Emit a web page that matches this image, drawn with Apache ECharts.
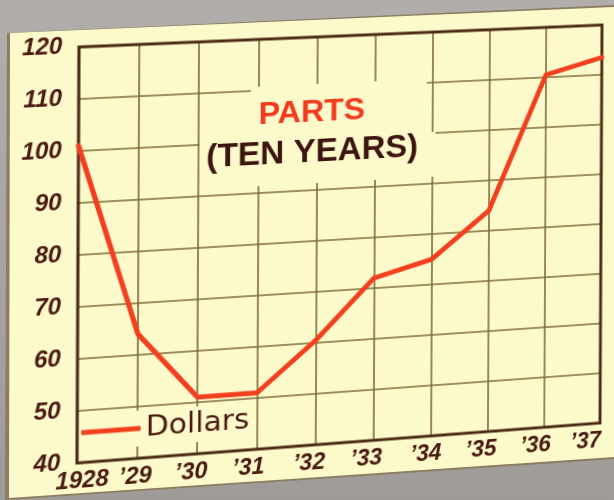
<!DOCTYPE html>
<html><head><meta charset="utf-8">
<script src="https://cdn.jsdelivr.net/npm/echarts@6/dist/echarts.min.js"></script>
<style>
html,body{margin:0;padding:0;width:614px;height:500px;overflow:hidden;background:linear-gradient(#b0adaa,#9e9b98);}
#edge{position:absolute;left:0;top:0;width:614px;height:500px;background:#8c7c62;clip-path:polygon(7px 33px,614px 5px,614px 459px,5px 500px);}
#paper{position:absolute;left:0;top:0;width:614px;height:500px;background:#fcfacb;clip-path:polygon(10px 33px,614px 7px,614px 457px,9px 498px);}
#chart{position:absolute;left:0;top:0;width:614px;height:500px;transform-origin:0 0;}
</style></head><body>
<div id="edge"></div><div id="paper"></div><div id="chart"></div>
<script>
// ---- data ----
const years = ['1928', '\u201929', '\u201930', '\u201931', '\u201932', '\u201933', '\u201934', '\u201935', '\u201936', '\u201937'];
const dollars = [101, 64, 51, 51, 60.5, 72, 75, 84, 110.5, 113.5];
const yMin = 40, yMax = 120, yStep = 10;
const seriesName = 'Dollars';
const titleMain = 'PARTS';
const titleSub = '(TEN YEARS)';

// ---- photo perspective (plot rect -> photographed quad) ----
const plot = {l: 79, t: 47, r: 602, b: 463};
const srcQuad = [[plot.l, plot.t], [plot.r, plot.t], [plot.l, plot.b], [plot.r, plot.b]];
const dstQuad = [[79, 47], [602, 25], [77, 463], [600, 423]];
function solve(A, b) {
  const n = b.length;
  for (let i = 0; i < n; i++) {
    let p = i;
    for (let r = i + 1; r < n; r++) if (Math.abs(A[r][i]) > Math.abs(A[p][i])) p = r;
    [A[i], A[p]] = [A[p], A[i]]; [b[i], b[p]] = [b[p], b[i]];
    for (let r = i + 1; r < n; r++) {
      const f = A[r][i] / A[i][i];
      for (let c = i; c < n; c++) A[r][c] -= f * A[i][c];
      b[r] -= f * b[i];
    }
  }
  const x = new Array(n);
  for (let i = n - 1; i >= 0; i--) {
    let s = b[i];
    for (let c = i + 1; c < n; c++) s -= A[i][c] * x[c];
    x[i] = s / A[i][i];
  }
  return x;
}
function homography(src, dst) {
  const A = [], b = [];
  for (let i = 0; i < 4; i++) {
    const [x, y] = src[i], [u, v] = dst[i];
    A.push([x, y, 1, 0, 0, 0, -u * x, -u * y]); b.push(u);
    A.push([0, 0, 0, x, y, 1, -v * x, -v * y]); b.push(v);
  }
  const h = solve(A, b);
  return [h[0], h[1], h[2], h[3], h[4], h[5], h[6], h[7], 1];
}
function applyH(h, x, y) {
  const w = h[6] * x + h[7] * y + h[8];
  return [(h[0] * x + h[1] * y + h[2]) / w, (h[3] * x + h[4] * y + h[5]) / w];
}
const H = homography(srcQuad, dstQuad);
const Hinv = homography(dstQuad, srcQuad);
const chartEl = document.getElementById('chart');
chartEl.style.transform = 'matrix3d(' + [H[0], H[3], 0, H[6], H[1], H[4], 0, H[7], 0, 0, 1, 0, H[2], H[5], 0, H[8]].join(',') + ')';

// ---- styles ----
const paperColor = '#fcfacb';
const inkColor = '#4a1a12';
const gridColor = '#7f6a36';
const lineColor = '#f2401f';
const labelFont = {fontFamily: '"Liberation Sans", Arial, sans-serif', fontWeight: 'bold', fontStyle: 'italic', fontSize: 23, color: inkColor};

const mctx = document.createElement('canvas').getContext('2d');
function textW(txt, font) { mctx.font = font; return mctx.measureText(txt).width; }
const t1Font = 32, t2Font = 33;
const c1 = applyH(Hinv, 312, 113);
const c2 = applyH(Hinv, 313, 153);
const w1 = textW(titleMain, 'bold ' + t1Font + 'px "Liberation Sans"');
const w2 = textW(titleSub, 'bold ' + t2Font + 'px "Liberation Sans"');

const labelPads = [[0, 0, 0, 10], [0, 4, 0, 0], [0, 12, 0, 0], [0, 16, 0, 0], [0, 12, 0, 0],
                   [0, 14, 0, 0], [0, 10, 0, 0], [0, 14, 0, 0], [0, 18, 0, 0], [0, 30, 0, 0]];
const xData = years.map((y, i) => ({value: y, textStyle: {padding: labelPads[i]}}));

const chart = echarts.init(chartEl, null, {renderer: 'canvas'});
chart.setOption({
  backgroundColor: 'transparent',
  animation: false,
  title: [
    {text: titleMain, left: c1[0] - w1 / 2, top: c1[1] - 18, padding: 0, z: 6,
     textStyle: {fontFamily: '"Liberation Sans", Arial, sans-serif', fontWeight: 'bold', fontSize: t1Font, lineHeight: 36, color: '#f43a1e'}},
    {text: titleSub, left: c2[0] - w2 / 2, top: c2[1] - 18, padding: 0, z: 6,
     textStyle: {fontFamily: '"Liberation Sans", Arial, sans-serif', fontWeight: 'bold', fontSize: t2Font, lineHeight: 36, color: '#3d1510'}}
  ],
  legend: {
    data: [seriesName], left: 81, top: 415, padding: [3, 4, 3, 2],
    icon: 'rect', itemWidth: 57, itemHeight: 5,
    backgroundColor: paperColor, z: 4,
    textStyle: {fontFamily: '"DejaVu Sans", sans-serif', fontSize: 29, lineHeight: 30, color: inkColor}
  },
  grid: {left: plot.l, top: plot.t, right: 614 - plot.r, bottom: 500 - plot.b, containLabel: false},
  xAxis: {
    type: 'category', data: xData, boundaryGap: false,
    axisLine: {show: false}, axisTick: {show: false},
    axisLabel: Object.assign({interval: 0, margin: 7}, labelFont),
    splitLine: {show: true, interval: 0, lineStyle: {color: gridColor, width: 1.6}}
  },
  yAxis: {
    type: 'value', min: yMin, max: yMax, interval: yStep,
    axisLine: {show: false}, axisTick: {show: false},
    axisLabel: Object.assign({margin: 16, showMinLabel: true, showMaxLabel: true}, labelFont),
    splitLine: {show: true, lineStyle: {color: gridColor, width: 1.6}}
  },
  graphic: [
    {type: 'rect', z: 1, shape: {x: 246, y: 95, width: 176, height: 56}, style: {fill: paperColor}},
    {type: 'rect', z: 1, shape: {x: 196, y: 150, width: 235, height: 46}, style: {fill: paperColor}},
    {type: 'rect', z: 1, shape: {x: plot.l, y: plot.t, width: plot.r - plot.l, height: plot.b - plot.t},
     style: {fill: null, stroke: '#4b2a17', lineWidth: 3}}
  ],
  series: [{
    name: seriesName, type: 'line', data: dollars, color: lineColor,
    symbol: 'none', z: 2,
    lineStyle: {color: lineColor, width: 5, join: 'round', cap: 'round'}
  }]
});
</script>
</body></html>
